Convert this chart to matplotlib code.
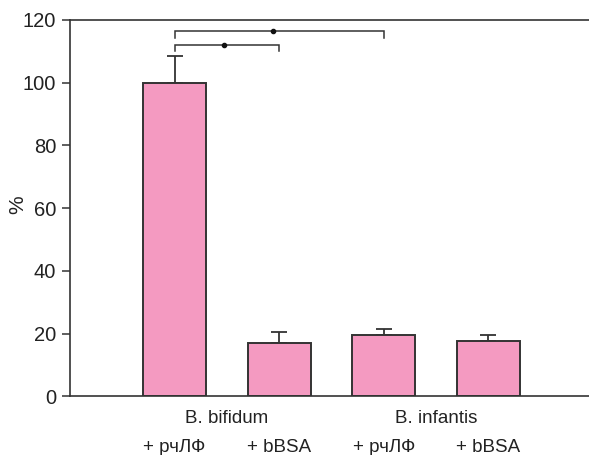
import matplotlib
matplotlib.use("Agg")
import matplotlib.pyplot as plt
import numpy as np

# Values in percent of the B. bifidum + rhLF level
groups = ["B. bifidum", "B. infantis"]
treatments = ["+ рчЛФ", "+ bBSA", "+ рчЛФ", "+ bBSA"]
values = [100.0, 17.2, 19.7, 17.6]
errors = [8.5, 3.3, 1.9, 2.1]
yticks = [0, 20, 40, 60, 80, 100, 120]

# significance brackets: (left bar, right bar, level, drop)
brackets = [(0, 1, 112.0, 1.8), (0, 2, 116.6, 2.5)]

plt.rcParams["font.family"] = ["Liberation Sans", "DejaVu Sans"]

BAR = "#f49ac1"
INK = "#333333"
TXT = "#222222"

fig = plt.figure(figsize=(5.89, 4.55), dpi=100)
ax = fig.add_axes([0.1188, 0.1286, 0.881, 0.8275])

x = np.arange(len(values))
ax.bar(x, values, width=0.6, color=BAR, edgecolor=INK, linewidth=1.4, zorder=2)
ax.errorbar(x, values, yerr=[np.zeros(len(errors)), errors], fmt="none",
            ecolor=INK, elinewidth=1.3, capsize=5.5, capthick=1.3, zorder=1)

for i0, i1, level, drop in brackets:
    ax.plot([x[i0], x[i0], x[i1], x[i1]],
            [level - drop, level, level, level - drop],
            color=INK, lw=1.1, solid_joinstyle="miter", clip_on=False)
    ax.plot([(x[i0] + x[i1]) / 2 - 0.03 * (i1 - i0)], [level], "o",
            color="#111111", ms=3, clip_on=False)

ax.set_xlim(-1.0, 3.96)
ax.set_ylim(0, 120)
ax.set_yticks(yticks)
ax.set_xticks([])
ax.tick_params(axis="y", direction="out", length=6, width=1.1, color=INK,
               labelsize=14.5, labelcolor=TXT, pad=4)
for side in ("left", "bottom", "top"):
    ax.spines[side].set_color(INK)
    ax.spines[side].set_linewidth(1.2)
ax.spines["right"].set_visible(False)

ax.set_ylabel("%", fontsize=15, color=TXT)
ax.yaxis.set_label_coords(-0.083, 0.51)

for k, name in enumerate(groups):
    ax.text((x[2 * k] + x[2 * k + 1]) / 2, -8.6, name, ha="center",
            va="baseline", fontsize=13.5, color=TXT)
for xi, lab in zip(x, treatments):
    ax.text(xi, -17.6, lab, ha="center", va="baseline", fontsize=13.5,
            color=TXT)

fig.savefig("out.png", dpi=100)
